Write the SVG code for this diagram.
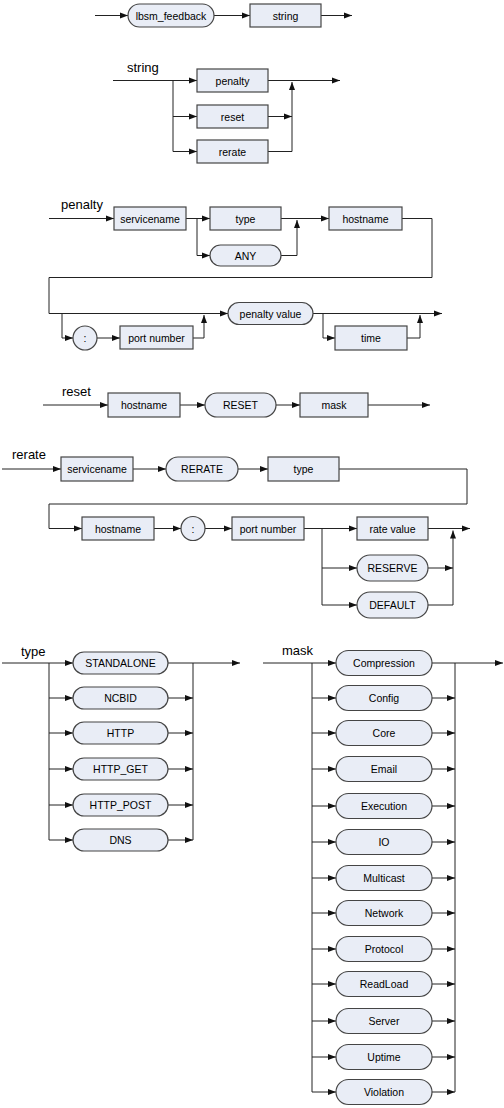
<svg xmlns="http://www.w3.org/2000/svg" width="504" height="1108" viewBox="0 0 504 1108">
<defs>
<marker id="ar" markerUnits="userSpaceOnUse" markerWidth="9" markerHeight="7" refX="8" refY="3.5" orient="auto">
<path d="M0,0.5 L8,3.5 L0,6.5 z" fill="#111"/>
</marker>
<style>
.c path{fill:none;stroke:#222;stroke-width:1}
.c path.a{marker-end:url(#ar)}
.n rect,.n circle{fill:#e9edf6;stroke:#454545;stroke-width:1.2}
.n text{font-family:"Liberation Sans",Arial,sans-serif;font-size:10.5px;fill:#000;text-anchor:middle;dominant-baseline:central}
.lbl{font-family:"Liberation Sans",Arial,sans-serif;font-size:13px;fill:#000}
</style>
</defs>
<rect width="504" height="1108" fill="#fff"/>

<!-- labels -->
<text class="lbl" x="127" y="72">string</text>
<text class="lbl" x="61" y="209">penalty</text>
<text class="lbl" x="62" y="396">reset</text>
<text class="lbl" x="12" y="459">rerate</text>
<text class="lbl" x="21" y="656">type</text>
<text class="lbl" x="282" y="655">mask</text>

<g class="c" id="connectors">
<!-- row 1 -->
<path class="a" d="M95,15.5 H128"/>
<path class="a" d="M214,15.5 H250"/>
<path class="a" d="M321,15.5 H352"/>
<!-- string -->
<path class="a" d="M113,80.5 H197"/>
<path class="a" d="M173,80.5 V151.5 H197"/>
<path class="a" d="M173,116.5 H197"/>
<path class="a" d="M268,80.5 H340"/>
<path class="a" d="M268,116.5 H292"/>
<path class="a" d="M268,151.5 H292 V82"/>
<!-- penalty -->
<path class="a" d="M49,218.5 H114"/>
<path class="a" d="M186,218.5 H210"/>
<path class="a" d="M197,218.5 V255.5 H210"/>
<path class="a" d="M281,218.5 H329"/>
<path class="a" d="M281,255.5 H297 V220"/>
<path class="a" d="M402,218.5 H432 V277.5 H49 V313.5 H228"/>
<path class="a" d="M62,313.5 V338 H73"/>
<path class="a" d="M97,338 H120"/>
<path class="a" d="M193,338 H204 V315"/>
<path class="a" d="M313,313.5 H442"/>
<path class="a" d="M323,313.5 V338 H335"/>
<path class="a" d="M407,338 H420 V315"/>
<!-- reset -->
<path class="a" d="M43,405 H108"/>
<path class="a" d="M180,405 H205"/>
<path class="a" d="M276,405 H300"/>
<path class="a" d="M368,405 H430"/>
<!-- rerate -->
<path class="a" d="M2,469 H61"/>
<path class="a" d="M133,469 H166"/>
<path class="a" d="M238,469 H268"/>
<path class="a" d="M339,469 H467 V504 H49 V528.5 H82"/>
<path class="a" d="M154,528.5 H181"/>
<path class="a" d="M205,528.5 H232"/>
<path class="a" d="M304,528.5 H357"/>
<path class="a" d="M322,528.5 V605 H357"/>
<path class="a" d="M322,568 H357"/>
<path class="a" d="M428,528.5 H470"/>
<path class="a" d="M428,568 H453"/>
<path class="a" d="M428,605 H453 V530.5"/>
<!-- type -->
<path class="a" d="M2,663 H73"/>
<path d="M49,663 V840"/>
<path class="a" d="M49,698 H73"/>
<path class="a" d="M49,733 H73"/>
<path class="a" d="M49,769 H73"/>
<path class="a" d="M49,805 H73"/>
<path class="a" d="M49,840 H73"/>
<path class="a" d="M168,663 H240"/>
<path d="M193,663 V840"/>
<path class="a" d="M168,698 H193"/>
<path class="a" d="M168,733 H193"/>
<path class="a" d="M168,769 H193"/>
<path class="a" d="M168,805 H193"/>
<path class="a" d="M168,840 H193"/>
<!-- mask -->
<path class="a" d="M263,663 H336"/>
<path d="M312,663 V1092"/>
<path d="M455,663 V1092"/>
<path class="a" d="M432,663 H503"/>
<path class="a" d="M312,698 H336"/><path class="a" d="M432,698 H455"/>
<path class="a" d="M312,733 H336"/><path class="a" d="M432,733 H455"/>
<path class="a" d="M312,769 H336"/><path class="a" d="M432,769 H455"/>
<path class="a" d="M312,806 H336"/><path class="a" d="M432,806 H455"/>
<path class="a" d="M312,842 H336"/><path class="a" d="M432,842 H455"/>
<path class="a" d="M312,878 H336"/><path class="a" d="M432,878 H455"/>
<path class="a" d="M312,913 H336"/><path class="a" d="M432,913 H455"/>
<path class="a" d="M312,949 H336"/><path class="a" d="M432,949 H455"/>
<path class="a" d="M312,984 H336"/><path class="a" d="M432,984 H455"/>
<path class="a" d="M312,1021 H336"/><path class="a" d="M432,1021 H455"/>
<path class="a" d="M312,1057 H336"/><path class="a" d="M432,1057 H455"/>
<path class="a" d="M312,1092 H336"/><path class="a" d="M432,1092 H455"/>
</g>

<!-- row 1 -->
<g class="n" id="n-lbsm"><rect x="128" y="4" width="86" height="23" rx="11.5"/><text x="171" y="15.5">lbsm_feedback</text></g>
<g class="n" id="n-string"><rect x="250" y="4" width="71" height="23"/><text x="285.5" y="15.5">string</text></g>
<!-- string -->
<g class="n" id="n-penalty"><rect x="197" y="69" width="71" height="23"/><text x="232.5" y="80.5">penalty</text></g>
<g class="n" id="n-reset"><rect x="197" y="105" width="71" height="23"/><text x="232.5" y="116.5">reset</text></g>
<g class="n" id="n-rerate"><rect x="197" y="140" width="71" height="23"/><text x="232.5" y="151.5">rerate</text></g>
<!-- penalty -->
<g class="n" id="p-servicename"><rect x="114" y="207" width="72" height="23"/><text x="150" y="218.5">servicename</text></g>
<g class="n" id="p-type"><rect x="210" y="207" width="71" height="23"/><text x="245.5" y="218.5">type</text></g>
<g class="n" id="p-any"><rect x="210" y="245" width="71" height="21" rx="10.5"/><text x="245.5" y="255.5">ANY</text></g>
<g class="n" id="p-hostname"><rect x="329" y="207" width="73" height="23"/><text x="365.5" y="218.5">hostname</text></g>
<g class="n" id="p-colon"><circle cx="85" cy="338" r="12"/><text x="85" y="338">:</text></g>
<g class="n" id="p-port"><rect x="120" y="326" width="73" height="23"/><text x="156.5" y="337.5">port number</text></g>
<g class="n" id="p-value"><rect x="228" y="302.5" width="85" height="22" rx="11"/><text x="270.5" y="313.5">penalty value</text></g>
<g class="n" id="p-time"><rect x="335" y="326" width="72" height="24"/><text x="371" y="338">time</text></g>
<!-- reset -->
<g class="n" id="r-hostname"><rect x="108" y="393" width="72" height="24"/><text x="144" y="405">hostname</text></g>
<g class="n" id="r-reset"><rect x="205" y="393" width="71" height="24" rx="12"/><text x="240.5" y="405">RESET</text></g>
<g class="n" id="r-mask"><rect x="300" y="393" width="68" height="24"/><text x="334" y="405">mask</text></g>
<!-- rerate -->
<g class="n" id="rr-servicename"><rect x="61" y="457" width="72" height="24"/><text x="97" y="469">servicename</text></g>
<g class="n" id="rr-rerate"><rect x="166" y="457" width="72" height="24" rx="12"/><text x="202" y="469">RERATE</text></g>
<g class="n" id="rr-type"><rect x="268" y="457" width="71" height="24"/><text x="303.5" y="469">type</text></g>
<g class="n" id="rr-hostname"><rect x="82" y="517" width="72" height="23"/><text x="118" y="528.5">hostname</text></g>
<g class="n" id="rr-colon"><circle cx="193" cy="528.5" r="12"/><text x="193" y="528.5">:</text></g>
<g class="n" id="rr-port"><rect x="232" y="517" width="72" height="23"/><text x="268" y="528.5">port number</text></g>
<g class="n" id="rr-rate"><rect x="357" y="517" width="71" height="23"/><text x="392.5" y="528.5">rate value</text></g>
<g class="n" id="rr-reserve"><rect x="357" y="555" width="71" height="26" rx="13"/><text x="392.5" y="568">RESERVE</text></g>
<g class="n" id="rr-default"><rect x="357" y="592" width="71" height="26" rx="13"/><text x="392.5" y="605">DEFAULT</text></g>
<!-- type -->
<g class="n" id="t-standalone"><rect x="73" y="652" width="95" height="22" rx="11"/><text x="120.5" y="663">STANDALONE</text></g>
<g class="n" id="t-ncbid"><rect x="73" y="687" width="95" height="22" rx="11"/><text x="120.5" y="698">NCBID</text></g>
<g class="n" id="t-http"><rect x="73" y="722" width="95" height="22" rx="11"/><text x="120.5" y="733">HTTP</text></g>
<g class="n" id="t-httpget"><rect x="73" y="758" width="95" height="22" rx="11"/><text x="120.5" y="769">HTTP_GET</text></g>
<g class="n" id="t-httppost"><rect x="73" y="794" width="95" height="22" rx="11"/><text x="120.5" y="805">HTTP_POST</text></g>
<g class="n" id="t-dns"><rect x="73" y="829" width="95" height="22" rx="11"/><text x="120.5" y="840">DNS</text></g>
<!-- mask -->
<g class="n" id="m-compression"><rect x="336" y="650.5" width="96" height="25" rx="12.5"/><text x="384" y="663">Compression</text></g>
<g class="n" id="m-config"><rect x="336" y="685.5" width="96" height="25" rx="12.5"/><text x="384" y="698">Config</text></g>
<g class="n" id="m-core"><rect x="336" y="720.5" width="96" height="25" rx="12.5"/><text x="384" y="733">Core</text></g>
<g class="n" id="m-email"><rect x="336" y="756.5" width="96" height="25" rx="12.5"/><text x="384" y="769">Email</text></g>
<g class="n" id="m-execution"><rect x="336" y="793.5" width="96" height="25" rx="12.5"/><text x="384" y="806">Execution</text></g>
<g class="n" id="m-io"><rect x="336" y="829.5" width="96" height="25" rx="12.5"/><text x="384" y="842">IO</text></g>
<g class="n" id="m-multicast"><rect x="336" y="865.5" width="96" height="25" rx="12.5"/><text x="384" y="878">Multicast</text></g>
<g class="n" id="m-network"><rect x="336" y="900.5" width="96" height="25" rx="12.5"/><text x="384" y="913">Network</text></g>
<g class="n" id="m-protocol"><rect x="336" y="936.5" width="96" height="25" rx="12.5"/><text x="384" y="949">Protocol</text></g>
<g class="n" id="m-readload"><rect x="336" y="971.5" width="96" height="25" rx="12.5"/><text x="384" y="984">ReadLoad</text></g>
<g class="n" id="m-server"><rect x="336" y="1008.5" width="96" height="25" rx="12.5"/><text x="384" y="1021">Server</text></g>
<g class="n" id="m-uptime"><rect x="336" y="1044.5" width="96" height="25" rx="12.5"/><text x="384" y="1057">Uptime</text></g>
<g class="n" id="m-violation"><rect x="336" y="1079.5" width="96" height="25" rx="12.5"/><text x="384" y="1092">Violation</text></g>
</svg>
